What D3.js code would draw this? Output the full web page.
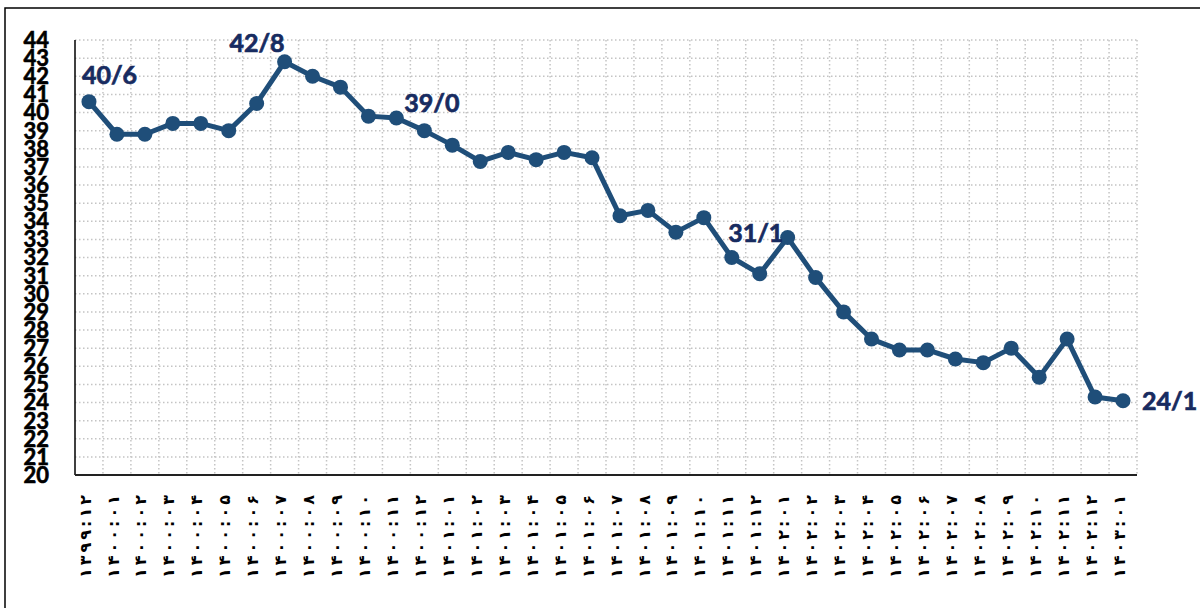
<!DOCTYPE html>
<html>
<head>
<meta charset="utf-8">
<script src="https://cdn.jsdelivr.net/npm/d3@7"></script>
<style>
  body { margin: 0; background: #fff; }
  svg { display: block; }
</style>
</head>
<body>
<div id="chart"></div>
<script>
// months, Persian calendar
var months = [
  "۱۳۹۹:۱۲",
  "۱۴۰۰:۰۱","۱۴۰۰:۰۲","۱۴۰۰:۰۳","۱۴۰۰:۰۴","۱۴۰۰:۰۵","۱۴۰۰:۰۶",
  "۱۴۰۰:۰۷","۱۴۰۰:۰۸","۱۴۰۰:۰۹","۱۴۰۰:۱۰","۱۴۰۰:۱۱","۱۴۰۰:۱۲",
  "۱۴۰۱:۰۱","۱۴۰۱:۰۲","۱۴۰۱:۰۳","۱۴۰۱:۰۴","۱۴۰۱:۰۵","۱۴۰۱:۰۶",
  "۱۴۰۱:۰۷","۱۴۰۱:۰۸","۱۴۰۱:۰۹","۱۴۰۱:۱۰","۱۴۰۱:۱۱","۱۴۰۱:۱۲",
  "۱۴۰۲:۰۱","۱۴۰۲:۰۲","۱۴۰۲:۰۳","۱۴۰۲:۰۴","۱۴۰۲:۰۵","۱۴۰۲:۰۶",
  "۱۴۰۲:۰۷","۱۴۰۲:۰۸","۱۴۰۲:۰۹","۱۴۰۲:۱۰","۱۴۰۲:۱۱","۱۴۰۲:۱۲",
  "۱۴۰۳:۰۱"
];

var values = [
  40.6, 38.8, 38.8, 39.4, 39.4, 39.0, 40.5, 42.8, 42.0, 41.4,
  39.8, 39.7, 39.0, 38.2, 37.3, 37.8, 37.4, 37.8, 37.5, 34.3,
  34.6, 33.4, 34.2, 32.0, 31.1, 33.1, 30.9, 29.0, 27.5, 26.9,
  26.9, 26.4, 26.2, 27.0, 25.4, 27.5, 24.3, 24.1
];

var yTicks = d3.range(20, 45);

// labelled points (index into values) and their text
var labelIdx = [0, 7, 12, 24, 37];
var labelText = ["40/6", "42/8", "39/0", "31/1", "24/1"];

var W = 1200, H = 608;
var margin = {left: 75, right: 63, top: 40, bottom: 133};

var svg = d3.select("#chart").append("svg")
    .attr("width", W).attr("height", H);

// outer frame
svg.append("rect")
    .attr("x", 5).attr("y", 8)
    .attr("width", W + 20).attr("height", H + 20)
    .attr("fill", "none").attr("stroke", "#000").attr("stroke-width", 1.5);

var x = d3.scaleBand()
    .domain(d3.range(months.length))
    .range([margin.left, W - margin.right])
    .paddingInner(0).paddingOuter(0);

var y = d3.scaleLinear()
    .domain([20, 44])
    .range([H - margin.bottom, margin.top]);

var grid = svg.append("g").attr("class", "grid");

// horizontal gridlines
grid.selectAll(".hg")
    .data(yTicks.slice(1))
    .enter().append("line")
    .attr("x1", margin.left).attr("x2", W - margin.right)
    .attr("y1", function(d){ return y(d); })
    .attr("y2", function(d){ return y(d); })
    .attr("stroke", "#c4c4c4").attr("stroke-width", 1.5)
    .attr("stroke-dasharray", "1.5,2.5");

// vertical gridlines at band edges
grid.selectAll(".vg")
    .data(d3.range(1, months.length + 1))
    .enter().append("line")
    .attr("x1", function(i){ return margin.left + i * x.step(); })
    .attr("x2", function(i){ return margin.left + i * x.step(); })
    .attr("y1", y(44)).attr("y2", y(20))
    .attr("stroke", "#c4c4c4").attr("stroke-width", 1.5)
    .attr("stroke-dasharray", "1.5,2.5");

// axes lines
svg.append("line")
    .attr("x1", margin.left).attr("x2", margin.left)
    .attr("y1", y(44)).attr("y2", y(20))
    .attr("stroke", "#000").attr("stroke-width", 1.5);
svg.append("line")
    .attr("x1", margin.left).attr("x2", W - margin.right)
    .attr("y1", y(20)).attr("y2", y(20))
    .attr("stroke", "#222").attr("stroke-width", 2);

// y tick labels
svg.selectAll(".ytick")
    .data(yTicks)
    .enter().append("text")
    .attr("x", 49)
    .attr("y", function(d){ return y(d); })
    .attr("dy", "0.36em")
    .attr("text-anchor", "end")
    .style("font-family", "Lato, 'Noto Sans', sans-serif")
    .style("font-weight", "bold")
    .style("font-size", "22px")
    .attr("fill", "#000")
    .attr("stroke", "#000").attr("stroke-width", 0.6)
    .text(function(d){ return d; });

// x tick labels, rotated; arabic script ignores letter-spacing,
// so each digit is laid out on its own, bottom (first char) to top
var xlab = svg.append("g").attr("class", "xlab");
var gap = 3;
months.forEach(function(m, i){
  var cx = x(i) + x.bandwidth() / 2 - 4;
  var pos = 578;
  Array.from(m).forEach(function(ch){
    var t = xlab.append("text")
      .attr("dy", "0.35em")
      .attr("text-anchor", "middle")
      .style("font-family", "'DejaVu Sans', sans-serif")
      .style("font-weight", "bold")
      .style("font-size", "16px")
      .attr("fill", "#000")
      .text(ch);
    var w = t.node().getComputedTextLength();
    t.attr("transform", "translate(" + cx + "," + (pos - w / 2) + ") rotate(-90)");
    pos -= w + gap;
  });
});

// line + markers
var line = d3.line()
    .x(function(d, i){ return x(i) + x.bandwidth() / 2; })
    .y(function(d){ return y(d); });

svg.append("path")
    .datum(values)
    .attr("d", line)
    .attr("fill", "none")
    .attr("stroke", "#1f4e79")
    .attr("stroke-width", 5)
    .attr("stroke-linejoin", "round");

svg.selectAll(".dot")
    .data(values)
    .enter().append("circle")
    .attr("cx", function(d, i){ return x(i) + x.bandwidth() / 2; })
    .attr("cy", function(d){ return y(d); })
    .attr("r", 7.5)
    .attr("fill", "#1f4e79");

// data labels
var place = [
  {dx: -7, dy: -18, anchor: "start"},
  {dx: 0, dy: -10, anchor: "end"},
  {dx: -20, dy: -19, anchor: "start"},
  {dx: -4, dy: -32, anchor: "middle"},
  {dx: 19, dy: 9, anchor: "start"}
];

labelIdx.forEach(function(idx, k){
  var px = x(idx) + x.bandwidth() / 2;
  var py = y(values[idx]);
  svg.append("text")
    .attr("x", px + place[k].dx)
    .attr("y", py + place[k].dy)
    .attr("text-anchor", place[k].anchor)
    .style("font-family", "Lato, 'Noto Sans', sans-serif")
    .style("font-weight", "bold")
    .style("font-size", "25px")
    .attr("fill", "#172b60")
    .attr("stroke", "#172b60").attr("stroke-width", 0.7)
    .text(labelText[k]);
});
</script>
</body>
</html>
